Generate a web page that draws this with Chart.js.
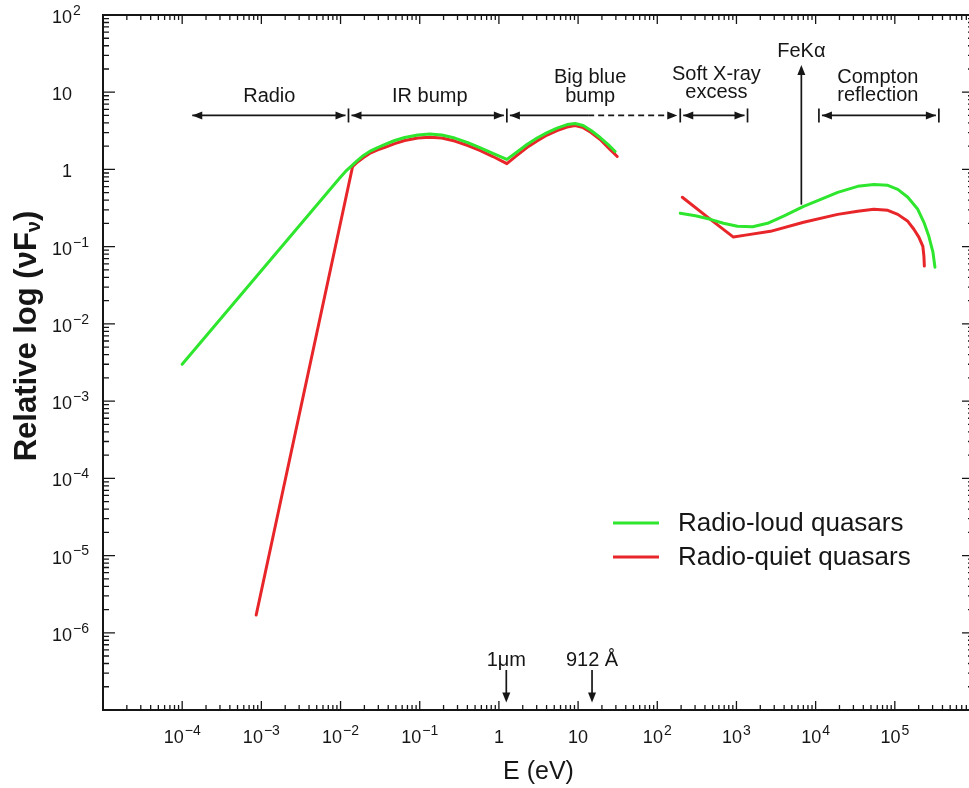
<!DOCTYPE html>
<html lang="en">
<head>
<meta charset="UTF-8">
<title>Quasar spectral energy distribution</title>
<style>
  html, body { margin: 0; padding: 0; overflow: hidden; background: #fff; }
  canvas { display: block; }
</style>
</head>
<body>
<canvas id="sed" width="980" height="788"></canvas>
<script src="https://cdn.jsdelivr.net/npm/chart.js@4.4.0/dist/chart.umd.min.js"></script>
<script>
// energies in eV, relative nuFnu; null flux marks the unobservable EUV gap
const loudEnergy = [1e-4, 9.7e-3, 0.01156, 0.01377, 0.0164, 0.0195, 0.0233, 0.0294, 0.0371, 0.0483,
  0.0646, 0.0944, 0.134, 0.190, 0.277, 0.405, 0.574, 0.840, 1.26,
  1.69, 2.26, 3.03, 4.06, 5.42, 7.26, 9.16, 11.6, 14.6, 19.0, 24.0, 29.4, 100,
  195, 303, 469, 684, 1030, 1600, 2470, 3940, 7050, 11600, 19000, 34000, 54200, 81500,
  109000, 146000, 195000, 233000, 269000, 303000, 321000];
const loudFlux = [3.0e-3, 0.77, 0.942, 1.11, 1.31, 1.52, 1.71, 1.92, 2.13, 2.37,
  2.59, 2.79, 2.87, 2.79, 2.55, 2.23, 1.92, 1.61, 1.35,
  1.68, 2.10, 2.55, 3.00, 3.43, 3.81, 3.93, 3.70, 3.19, 2.59, 2.10, 1.71, null,
  0.270, 0.251, 0.226, 0.201, 0.184, 0.181, 0.201, 0.248, 0.333, 0.41, 0.505, 0.604, 0.640, 0.622,
  0.552, 0.436, 0.305, 0.207, 0.136, 0.0849, 0.0543];

const quietEnergy = [8.6e-4, 0.0142, 0.0164, 0.0195, 0.0233, 0.0294, 0.0371, 0.0483,
  0.0646, 0.0944, 0.134, 0.190, 0.277, 0.405, 0.574, 0.840, 1.26,
  1.69, 2.26, 3.03, 4.06, 5.42, 7.26, 9.16, 11.6, 14.6, 19.0, 24.0, 31.2, 100,
  207, 469, 916, 1300, 2690, 7050, 19000, 34000, 54200, 81500,
  109000, 146000, 174000, 201000, 226000, 233000, 236000];
const quietFlux = [1.7e-6, 1.09, 1.25, 1.43, 1.61, 1.79, 1.95, 2.16,
  2.37, 2.55, 2.62, 2.55, 2.33, 2.04, 1.76, 1.47, 1.19,
  1.52, 1.92, 2.33, 2.79, 3.19, 3.53, 3.70, 3.48, 3.00, 2.44, 1.92, 1.47, null,
  0.436, 0.226, 0.133, 0.141, 0.158, 0.207, 0.262, 0.287, 0.305, 0.296,
  0.262, 0.213, 0.168, 0.133, 0.101, 0.0754, 0.056];

const seriesNames = ['Radio-loud quasars', 'Radio-quiet quasars'];
const seriesColors = ['#2ee62e', '#e8262a'];

const xTickValues = [1e-4, 1e-3, 1e-2, 1e-1, 1, 10, 100, 1e3, 1e4, 1e5];
const xTickLabels = [['10', '\u22124'], ['10', '\u22123'], ['10', '\u22122'], ['10', '\u22121'], ['1', ''],
  ['10', ''], ['10', '2'], ['10', '3'], ['10', '4'], ['10', '5']];
const yTickValues = [1e2, 10, 1, 1e-1, 1e-2, 1e-3, 1e-4, 1e-5, 1e-6];
const yTickLabels = [['10', '2'], ['10', ''], ['1', ''], ['10', '\u22121'], ['10', '\u22122'],
  ['10', '\u22123'], ['10', '\u22124'], ['10', '\u22125'], ['10', '\u22126']];

// band brackets along the top: [from, to, dashed-from] in eV
const bandSpans = [[1.34e-4, 0.0126, null], [0.0126, 1.26, null], [1.26, 195, 13.4], [195, 1380, null], [1.1e4, 3.6e5, null]];
const bandBars = [0.0126, 1.26, 195, 1380, 1.1e4, 3.6e5];
const bandLevel = 5;
const bandLabels = [
  ['Radio', 1.26e-3, 8.75], ['IR bump', 0.134, 8.75],
  ['Big blue', 14.2, 15.4], ['bump', 14.2, 8.75],
  ['Soft X-ray', 558, 16.8], ['excess', 558, 9.85],
  ['Compton', 6.1e4, 15.4], ['reflection', 6.1e4, 9.0]
];
// FeKa line marker
const ironLine = { energy: 6.6e3, from: 0.35, to: 22.6, labelAt: 33.3 };
// wavelength markers under the curves
const markers = [['1\u03bcm', 1.24, 4.4e-7], ['912 \u00c5', 15, 4.4e-7]];
const markerTop = 3.3e-7, markerTip = 1.25e-7;

const FONT = '"Liberation Sans", Arial, Helvetica, sans-serif';
const INK = '#161616';

function toPoints(es, fs) {
  return es.map((e, i) => ({ x: e, y: fs[i] }));
}

function logTicks(min, max) {
  const out = [];
  for (let d = Math.floor(Math.log10(min)); d < Math.ceil(Math.log10(max)); d++) {
    for (let m = 1; m <= 9; m++) {
      const v = m * Math.pow(10, d);
      if (v >= min * 0.999 && v <= max * 1.001) out.push({ v, major: m === 1 });
    }
  }
  return out;
}

function arrowHead(ctx, x, y, dx, dy) {
  // dx, dy: unit direction the tip points to
  const L = 10, W = 4;
  ctx.beginPath();
  ctx.moveTo(x, y);
  ctx.lineTo(x - dx * L - dy * W, y - dy * L + dx * W);
  ctx.lineTo(x - dx * L + dy * W, y - dy * L - dx * W);
  ctx.closePath();
  ctx.fill();
}

function powerLabel(ctx, base, exp, x, y, align) {
  ctx.font = '18px ' + FONT;
  const wb = ctx.measureText(base).width;
  ctx.font = '14px ' + FONT;
  const we = exp ? ctx.measureText(exp).width + 1 : 0;
  let x0 = align === 'center' ? x - (wb + we) / 2 : x - wb;
  ctx.textAlign = 'left';
  ctx.textBaseline = 'middle';
  ctx.font = '18px ' + FONT;
  ctx.fillText(base, x0, y);
  if (exp) {
    ctx.font = '14px ' + FONT;
    ctx.fillText(exp, x0 + wb + 1, y - 7);
  }
}

const decorations = {
  id: 'decorations',
  afterDatasetsDraw(chart) {
    const ctx = chart.ctx;
    const xs = chart.scales.x, ys = chart.scales.y;
    const { left, right, top, bottom } = chart.chartArea;
    const px = v => xs.getPixelForValue(v);
    const py = v => ys.getPixelForValue(v);
    ctx.save();
    ctx.strokeStyle = INK;
    ctx.fillStyle = INK;

    // frame and inward ticks
    ctx.lineWidth = 2;
    ctx.strokeRect(left, top, right - left, bottom - top);
    ctx.lineWidth = 1.3;
    ctx.beginPath();
    logTicks(xs.min, xs.max).forEach(t => {
      const x = px(t.v);
      ctx.moveTo(x, bottom); ctx.lineTo(x, bottom - (t.major ? 9 : 5));
      ctx.moveTo(x, top); ctx.lineTo(x, top + (t.major ? 9 : 5));
    });
    logTicks(ys.min, ys.max).forEach(t => {
      const y = py(t.v);
      ctx.moveTo(left, y); ctx.lineTo(left + (t.major ? 12 : 6), y);
      ctx.moveTo(right, y); ctx.lineTo(right - (t.major ? 12 : 6), y);
    });
    ctx.stroke();

    // tick labels
    xTickValues.forEach((v, i) => powerLabel(ctx, xTickLabels[i][0], xTickLabels[i][1], px(v), bottom + 28, 'center'));
    yTickValues.forEach((v, i) => powerLabel(ctx, yTickLabels[i][0], yTickLabels[i][1], left - 31, py(v) + 3, 'right'));

    // axis titles
    ctx.textAlign = 'center';
    ctx.textBaseline = 'middle';
    ctx.font = '25px ' + FONT;
    ctx.fillText('E (eV)', (left + right) / 2, bottom + 62);

    ctx.save();
    ctx.translate(27, top + 321);
    ctx.rotate(-Math.PI / 2);
    const big = 'bold 31px ' + FONT, small = 'bold 20px ' + FONT;
    ctx.font = big;
    const w1 = ctx.measureText('Relative log (\u03bdF').width;
    const w3 = ctx.measureText(')').width;
    ctx.font = small;
    const w2 = ctx.measureText('\u03bd').width;
    let sx = -(w1 + w2 + w3) / 2;
    ctx.textAlign = 'left';
    ctx.font = big;
    ctx.fillText('Relative log (\u03bdF', sx, 0);
    ctx.font = small;
    ctx.fillText('\u03bd', sx + w1, 7);
    ctx.font = big;
    ctx.fillText(')', sx + w1 + w2, 0);
    ctx.restore();

    // band brackets
    const by = py(bandLevel);
    ctx.lineWidth = 1.7;
    bandBars.forEach(v => {
      ctx.beginPath(); ctx.moveTo(px(v), by - 7); ctx.lineTo(px(v), by + 7); ctx.stroke();
    });
    bandSpans.forEach(([a, b, dashFrom]) => {
      const xa = px(a) + (bandBars.includes(a) ? 3 : 0);
      const xb = px(b) - 3;
      const xm = dashFrom ? px(dashFrom) : xb;
      ctx.beginPath(); ctx.moveTo(xa, by); ctx.lineTo(xm, by); ctx.stroke();
      if (dashFrom) {
        ctx.setLineDash([6, 4]);
        ctx.beginPath(); ctx.moveTo(xm, by); ctx.lineTo(xb, by); ctx.stroke();
        ctx.setLineDash([]);
      }
      arrowHead(ctx, xa, by, -1, 0);
      arrowHead(ctx, xb, by, 1, 0);
    });

    ctx.font = '20px ' + FONT;
    ctx.textAlign = 'center';
    ctx.textBaseline = 'middle';
    bandLabels.forEach(([t, e, f]) => ctx.fillText(t, px(e), py(f)));

    // FeKa arrow
    const fx = px(ironLine.energy);
    ctx.beginPath(); ctx.moveTo(fx, py(ironLine.from)); ctx.lineTo(fx, py(ironLine.to) + 4); ctx.stroke();
    arrowHead(ctx, fx, py(ironLine.to), 0, -1);
    ctx.fillText('FeK\u03b1', fx, py(ironLine.labelAt));

    // wavelength markers
    markers.forEach(([t, e, f]) => {
      const mx = px(e);
      ctx.beginPath(); ctx.moveTo(mx, py(markerTop)); ctx.lineTo(mx, py(markerTip) - 4); ctx.stroke();
      arrowHead(ctx, mx, py(markerTip), 0, 1);
      ctx.fillText(t, mx, py(f));
    });

    // legend
    const lx = 613, ly = [523, 557];
    seriesNames.forEach((n, i) => {
      ctx.strokeStyle = seriesColors[i];
      ctx.lineWidth = 3;
      ctx.beginPath(); ctx.moveTo(lx, ly[i]); ctx.lineTo(lx + 46, ly[i]); ctx.stroke();
      ctx.fillStyle = INK;
      ctx.textAlign = 'left';
      ctx.font = '26px ' + FONT;
      ctx.fillText(n, lx + 65, ly[i] + 1);
    });
    ctx.restore();
  }
};

new Chart(document.getElementById('sed'), {
  type: 'scatter',
  data: {
    datasets: [
      { label: seriesNames[0], data: toPoints(loudEnergy, loudFlux), borderColor: seriesColors[0] },
      { label: seriesNames[1], data: toPoints(quietEnergy, quietFlux), borderColor: seriesColors[1] }
    ]
  },
  options: {
    responsive: false,
    animation: false,
    showLine: true,
    spanGaps: false,
    elements: {
      point: { radius: 0, hoverRadius: 0 },
      line: { borderWidth: 3, tension: 0, borderCapStyle: 'round', borderJoinStyle: 'round' }
    },
    layout: { padding: { left: 103, top: 15, right: 6, bottom: 78 } },
    plugins: { legend: { display: false }, tooltip: { enabled: false } },
    scales: {
      x: { type: 'logarithmic', min: 1e-5, max: 1e6, display: false },
      y: { type: 'logarithmic', min: 1e-7, max: 1e2, display: false }
    }
  },
  plugins: [decorations]
});
</script>
</body>
</html>
